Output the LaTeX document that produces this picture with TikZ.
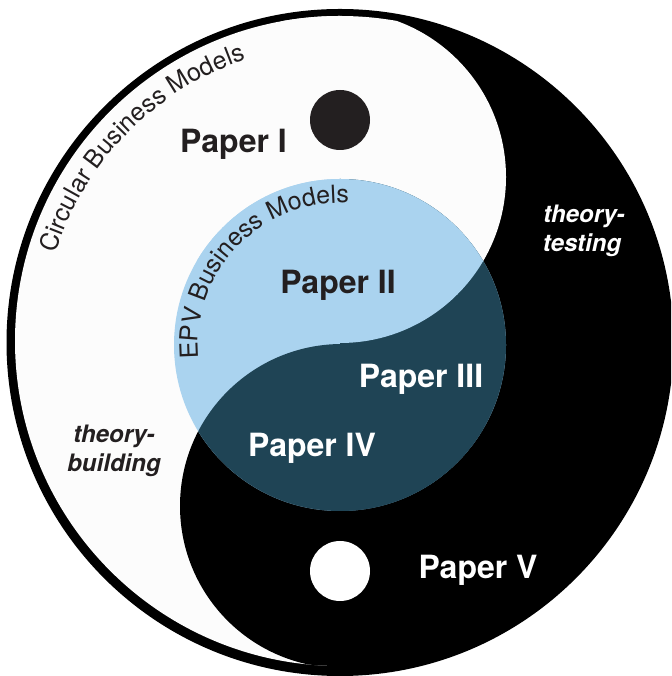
\documentclass[tikz,border=0pt]{standalone}
\usepackage{fontspec}
\setmainfont{TeX Gyre Heros}
\usetikzlibrary{decorations.text}
\definecolor{epvblue}{HTML}{AAD3EF}
\definecolor{epvdark}{HTML}{1F4455}
\definecolor{offwhite}{HTML}{FCFCFC}
\definecolor{inkdark}{HTML}{231F20}
\newcommand\paperfont{\fontsize{32}{38}\selectfont\bfseries}
\newcommand\arcfont{\fontsize{25}{30}\selectfont}
\newcommand\modefont{\fontsize{24}{29}\selectfont\bfseries\itshape}
\begin{document}
\begin{tikzpicture}[x=1pt,y=1pt,
  paper/.style={inner sep=0pt, anchor=base, font=\paperfont},
  mode/.style={inner sep=0pt, anchor=base, font=\modefont}]
\useasboundingbox (0,0) rectangle (671,676);
\clip (0,0) rectangle (671,676);
% outer disk
\fill[black] (340,333.5) circle[radius=333.5];
% yin (white) region
\begin{scope}
  \clip (340,335) circle[radius=325];
  \fill[offwhite] (0,0) rectangle (340,676);
  \fill[offwhite] (340,499) circle[radius=166];
  \fill[black] (342,170) circle[radius=162];
\end{scope}
% EPV circle
\fill[epvblue] (340,331) circle[radius=166];
\begin{scope}
  \clip (340,331) circle[radius=166];
  \fill[epvdark] (340,0) rectangle (671,676);
  \fill[epvblue] (340,499) circle[radius=166];
  \fill[epvdark] (342,170) circle[radius=162];
\end{scope}
% dots
\fill[inkdark] (340,556) circle[radius=30];
\fill[white] (340,105) circle[radius=30];
% arc labels
\path[decorate, decoration={text along path, text align=center,
  text={|\arcfont\color{inkdark}|Circular Business Models}}]
  (340,333.5) ++(175:298) arc[start angle=175, end angle=96, radius=298];
\path[decorate, decoration={text along path, text align=center,
  text={|\arcfont\color{inkdark}|EPV Business Models}}]
  (340,331) ++(192:142) arc[start angle=192, end angle=80, radius=142];
% paper labels
\node[paper, text=inkdark] (p1) at (233.5,523) {Paper I};
\node[paper, text=inkdark] (p2) at (338,382) {Paper II};
\node[paper, text=white] (p3) at (421,288) {Paper III};
\node[paper, text=white] (p4) at (312,219) {Paper IV};
\node[paper, text=white] (p5) at (478,97) {Paper V};
% mode labels
\node[mode, text=white] (tt1) at (584,453) {theory-};
\node[mode, text=white] (tt2) at (582,424) {testing};
\node[mode, text=inkdark] (tb1) at (114,233) {theory-};
\node[mode, text=inkdark] (tb2) at (114,204) {building};
\end{tikzpicture}
\end{document}
